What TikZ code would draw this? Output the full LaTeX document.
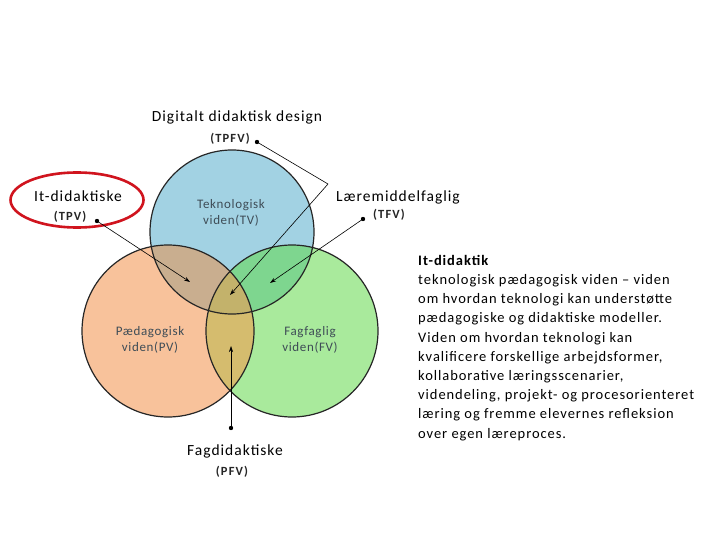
\documentclass[tikz,border=0pt]{standalone}
\usepackage{fontspec}
\setmainfont{Carlito}
\newfontfamily\spacedA[LetterSpace=6.5]{Carlito}
\newfontfamily\spacedB[LetterSpace=6.5]{Carlito}
\newfontfamily\spacedC[LetterSpace=5]{Carlito}
\newfontfamily\spacedD[LetterSpace=9]{Carlito}
\usetikzlibrary{arrows.meta,shapes.geometric}
\definecolor{cblue}{HTML}{A2D2E3}
\definecolor{corange}{HTML}{F8C29B}
\definecolor{cgreen}{HTML}{A9EA9C}
\definecolor{cbo}{HTML}{C9AE8F}
\definecolor{cbg}{HTML}{7ED68F}
\definecolor{cog}{HTML}{D5BC6E}
\definecolor{call}{HTML}{C3B26B}
\definecolor{clabel}{HTML}{3E4C56}
\definecolor{cred}{HTML}{D0141E}
\tikzset{
  ring/.style={draw=black!85, line width=1.2pt},
  lbl/.style={font=\spacedA\fontsize{15.5}{18}\selectfont, inner sep=0pt},
  abbr/.style={font=\spacedD\bfseries\fontsize{12.5}{14}\selectfont, text=black!85, inner sep=0pt},
  inlbl/.style={font=\spacedC\fontsize{13}{15.5}\selectfont, text=clabel, align=center, inner sep=0pt},
  ptr/.style={draw=black, line width=0.6pt, -{Stealth[length=6pt,width=4pt]}},
  dotc/.style={fill=black},
}
\begin{document}
\begin{tikzpicture}[x=1pt,y=-1pt]
\useasboundingbox (0,0) rectangle (720,540);
\fill[white] (0,0) rectangle (720,540);
% circles
\def\blueC{(232,232) circle (82)}
\def\orC{(168,331) circle (86)}
\def\grC{(292,331) circle (86)}
\fill[cblue] \blueC;
\fill[corange] \orC;
\fill[cgreen] \grC;
\begin{scope}\clip \blueC; \fill[cbo] \orC; \end{scope}
\begin{scope}\clip \blueC; \fill[cbg] \grC; \end{scope}
\begin{scope}\clip \orC; \fill[cog] \grC; \end{scope}
\begin{scope}\clip \blueC; \clip \orC; \fill[call] \grC; \end{scope}
\draw[ring] \blueC;
\draw[ring] \orC;
\draw[ring] \grC;
% inner labels
\node[inlbl] (tv) at (231,213) {Teknologisk\\viden(TV)};
\node[inlbl] (pv) at (150,340) {Pædagogisk\\viden(PV)};
\node[inlbl] (fv) at (310,340) {Fagfaglig\\viden(FV)};
% outer labels
\node[lbl] (title) at (237,117) {Digitalt didaktisk design};
\node[abbr] (tpfv) at (230,139) {(TPFV)};
\node[lbl] (itd) at (78,196) {It-didaktiske};
\node[abbr] (tpv) at (70,217) {(TPV)};
\node[draw=cred, line width=2.6pt, ellipse, minimum width=133pt, minimum height=55pt, inner sep=0pt] (ring) at (77,200) {};
\node[lbl] (lmf) at (398,197) {Læremiddelfaglig};
\node[abbr] (tfv) at (389,215) {(TFV)};
\node[lbl] (fdk) at (235,451) {Fagdidaktiske};
\node[abbr] (pfv) at (232,472) {(PFV)};
% pointers
\coordinate (d1) at (97,221);
\coordinate (e1) at (190,282);
\coordinate (d2) at (257,142);
\coordinate (k2) at (328,184);
\coordinate (e2) at (230,295);
\coordinate (d3) at (363,219);
\coordinate (e3) at (270,283);
\coordinate (d4) at (231,428);
\coordinate (e4) at (231,346);
\draw[ptr] (d1) -- (e1);
\draw[ptr] (d2) -- (k2) -- (e2);
\draw[ptr] (d3) -- (e3);
\draw[ptr] (d4) -- (e4);
\foreach \d in {d1,d2,d3,d4} \fill[dotc] (\d) circle (2.2);
% right text
\node[anchor=north west, align=left, inner sep=0pt, font=\spacedB\fontsize{14.5}{19.2}\selectfont] (desc) at (418,255) {\textbf{It-didaktik}\\
teknologisk pædagogisk viden – viden\\
om hvordan teknologi kan understøtte\\
pædagogiske og didaktiske modeller.\\
Viden om hvordan teknologi kan\\
kvalificere forskellige arbejdsformer,\\
kollaborative læringsscenarier,\\
videndeling, projekt- og procesorienteret\\
læring og fremme elevernes refleksion\\
over egen læreproces.};
\end{tikzpicture}
\end{document}
